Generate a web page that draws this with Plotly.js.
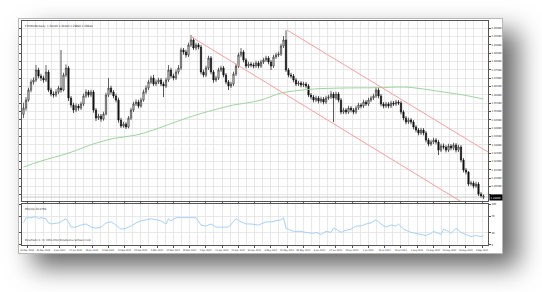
<!DOCTYPE html>
<html><head><meta charset="utf-8">
<script src="https://cdn.plot.ly/plotly-3.0.1.min.js"></script>
<style>
html,body{margin:0;padding:0;background:#fff;width:542px;height:292px;overflow:hidden;}
#frame{position:absolute;left:18px;top:18px;width:483px;height:234px;background:#fff;border:1px solid #b8b8b8;box-shadow:15px 13px 24px rgba(0,0,0,0.6);}
#chart{position:absolute;left:0;top:0;width:542px;height:292px;}
</style></head><body>
<div id="frame"></div><div id="chart"></div>
<script>
// ---- data ----
const symbolTitle = "\u25BE EURUSD,Daily  1.30100 1.30100 1.29820 1.29940";
const rsiTitle = "RSI(14) 23.0769";
const copyright = "MetaTrader 4, (C) 2001-2014 MetaQuotes Software Corp.";

const openP = [1.3490,1.3528,1.3576,1.3636,1.3684,1.3696,1.3756,1.3720,1.3708,1.3696,
1.3744,1.3636,1.3612,1.3606,1.3624,1.3648,1.3636,1.3726,1.3768,1.3588,
1.3546,1.3516,1.3540,1.3528,1.3552,1.3600,1.3624,1.3606,1.3624,1.3516,
1.3468,1.3480,1.3462,1.3492,1.3606,1.3648,1.3624,1.3600,1.3576,1.3456,
1.3420,1.3432,1.3414,1.3468,1.3516,1.3552,1.3564,1.3540,1.3576,1.3624,
1.3648,1.3684,1.3708,1.3672,1.3684,1.3696,1.3672,1.3660,1.3696,1.3756,
1.3720,1.3708,1.3744,1.3768,1.3876,1.3864,1.3846,1.3906,1.3936,1.3888,
1.3906,1.3894,1.3744,1.3726,1.3768,1.3828,1.3744,1.3696,1.3708,1.3756,
1.3768,1.3726,1.3684,1.3660,1.3672,1.3732,1.3780,1.3846,1.3864,1.3816,
1.3780,1.3792,1.3786,1.3780,1.3798,1.3780,1.3804,1.3816,1.3828,1.3804,
1.3780,1.3834,1.3846,1.3852,1.3900,1.3936,1.3756,1.3726,1.3720,1.3696,
1.3672,1.3678,1.3666,1.3672,1.3660,1.3606,1.3594,1.3576,1.3588,1.3570,
1.3582,1.3564,1.3588,1.3594,1.3612,1.3588,1.3612,1.3576,1.3504,1.3516,
1.3504,1.3528,1.3516,1.3504,1.3528,1.3546,1.3540,1.3564,1.3552,1.3576,
1.3588,1.3600,1.3636,1.3600,1.3552,1.3540,1.3552,1.3540,1.3558,1.3552,
1.3564,1.3558,1.3504,1.3468,1.3444,1.3456,1.3444,1.3414,1.3396,1.3378,
1.3396,1.3378,1.3336,1.3312,1.3324,1.3336,1.3324,1.3276,1.3300,1.3294,
1.3276,1.3300,1.3288,1.3306,1.3276,1.3294,1.3216,1.3156,1.3144,1.3072,
1.3078,1.3060,1.3072,1.3012,1.3000];

const highP = [1.3560,1.3594,1.3650,1.3700,1.3712,1.3786,1.3770,1.3734,1.3722,1.3786,
1.3756,1.3650,1.3628,1.3640,1.3662,1.3876,1.3740,1.3790,1.3780,1.3600,
1.3560,1.3556,1.3552,1.3566,1.3614,1.3640,1.3636,1.3638,1.3636,1.3528,
1.3494,1.3492,1.3506,1.3620,1.3708,1.3662,1.3636,1.3614,1.3590,1.3470,
1.3446,1.3444,1.3480,1.3530,1.3566,1.3580,1.3578,1.3590,1.3638,1.3664,
1.3698,1.3722,1.3726,1.3700,1.3710,1.3708,1.3686,1.3710,1.3786,1.3770,
1.3734,1.3758,1.3786,1.3890,1.3888,1.3878,1.3920,1.3966,1.3950,1.3920,
1.3918,1.3906,1.3758,1.3782,1.3842,1.3840,1.3756,1.3722,1.3770,1.3782,
1.3780,1.3738,1.3696,1.3686,1.3746,1.3794,1.3860,1.3888,1.3876,1.3828,
1.3806,1.3804,1.3800,1.3812,1.3810,1.3818,1.3830,1.3842,1.3840,1.3816,
1.3848,1.3860,1.3866,1.3914,1.3960,1.3994,1.3768,1.3740,1.3732,1.3708,
1.3692,1.3690,1.3686,1.3684,1.3672,1.3618,1.3606,1.3602,1.3600,1.3596,
1.3594,1.3602,1.3608,1.3632,1.3624,1.3626,1.3624,1.3588,1.3530,1.3528,
1.3542,1.3540,1.3528,1.3542,1.3560,1.3558,1.3578,1.3576,1.3590,1.3602,
1.3614,1.3654,1.3648,1.3612,1.3564,1.3566,1.3564,1.3572,1.3570,1.3578,
1.3576,1.3570,1.3516,1.3480,1.3470,1.3468,1.3456,1.3426,1.3408,1.3410,
1.3408,1.3390,1.3348,1.3338,1.3350,1.3348,1.3336,1.3314,1.3316,1.3306,
1.3314,1.3312,1.3320,1.3318,1.3308,1.3306,1.3228,1.3168,1.3150,1.3092,
1.3090,1.3086,1.3084,1.3024,1.3010];

const lowP = [1.3468,1.3512,1.3566,1.3622,1.3668,1.3684,1.3706,1.3690,1.3680,1.3684,
1.3624,1.3598,1.3590,1.3594,1.3612,1.3620,1.3628,1.3712,1.3570,1.3530,
1.3498,1.3504,1.3512,1.3516,1.3540,1.3588,1.3592,1.3594,1.3500,1.3450,
1.3456,1.3446,1.3452,1.3484,1.3594,1.3610,1.3586,1.3562,1.3440,1.3408,
1.3410,1.3402,1.3406,1.3456,1.3504,1.3540,1.3526,1.3530,1.3566,1.3612,
1.3636,1.3672,1.3660,1.3660,1.3672,1.3660,1.3594,1.3648,1.3684,1.3706,
1.3694,1.3696,1.3730,1.3756,1.3848,1.3830,1.3834,1.3894,1.3876,1.3874,
1.3880,1.3730,1.3712,1.3714,1.3756,1.3730,1.3680,1.3684,1.3696,1.3744,
1.3712,1.3670,1.3636,1.3648,1.3660,1.3720,1.3768,1.3832,1.3802,1.3766,
1.3768,1.3772,1.3766,1.3768,1.3766,1.3768,1.3792,1.3804,1.3790,1.3756,
1.3768,1.3822,1.3834,1.3840,1.3888,1.3744,1.3712,1.3706,1.3682,1.3660,
1.3660,1.3652,1.3654,1.3646,1.3594,1.3580,1.3562,1.3564,1.3556,1.3558,
1.3550,1.3552,1.3576,1.3582,1.3444,1.3576,1.3562,1.3490,1.3492,1.3490,
1.3492,1.3502,1.3490,1.3492,1.3516,1.3526,1.3528,1.3540,1.3540,1.3564,
1.3576,1.3588,1.3586,1.3538,1.3526,1.3528,1.3526,1.3528,1.3540,1.3540,
1.3546,1.3490,1.3454,1.3430,1.3432,1.3430,1.3400,1.3382,1.3364,1.3366,
1.3364,1.3322,1.3298,1.3300,1.3312,1.3310,1.3246,1.3264,1.3280,1.3262,
1.3264,1.3274,1.3276,1.3262,1.3264,1.3202,1.3142,1.3130,1.3060,1.3062,
1.3046,1.3048,1.3000,1.2988,1.2982];

const closeP = [1.3528,1.3576,1.3636,1.3684,1.3696,1.3756,1.3720,1.3708,1.3696,1.3744,
1.3636,1.3612,1.3606,1.3624,1.3648,1.3636,1.3726,1.3768,1.3588,1.3546,
1.3516,1.3540,1.3528,1.3552,1.3600,1.3624,1.3606,1.3624,1.3516,1.3468,
1.3480,1.3462,1.3492,1.3606,1.3648,1.3624,1.3600,1.3576,1.3456,1.3420,
1.3432,1.3414,1.3468,1.3516,1.3552,1.3564,1.3540,1.3576,1.3624,1.3648,
1.3684,1.3708,1.3672,1.3684,1.3696,1.3672,1.3660,1.3696,1.3756,1.3720,
1.3708,1.3744,1.3768,1.3876,1.3864,1.3846,1.3906,1.3936,1.3888,1.3906,
1.3894,1.3744,1.3726,1.3768,1.3828,1.3744,1.3696,1.3708,1.3756,1.3768,
1.3726,1.3684,1.3660,1.3672,1.3732,1.3780,1.3846,1.3864,1.3816,1.3780,
1.3792,1.3786,1.3780,1.3798,1.3780,1.3804,1.3816,1.3828,1.3804,1.3780,
1.3834,1.3846,1.3852,1.3900,1.3936,1.3756,1.3726,1.3720,1.3696,1.3672,
1.3678,1.3666,1.3672,1.3660,1.3606,1.3594,1.3576,1.3588,1.3570,1.3582,
1.3564,1.3588,1.3594,1.3612,1.3588,1.3612,1.3576,1.3504,1.3516,1.3504,
1.3528,1.3516,1.3504,1.3528,1.3546,1.3540,1.3564,1.3552,1.3576,1.3588,
1.3600,1.3636,1.3600,1.3552,1.3540,1.3552,1.3540,1.3558,1.3552,1.3564,
1.3558,1.3504,1.3468,1.3444,1.3456,1.3444,1.3414,1.3396,1.3378,1.3396,
1.3378,1.3336,1.3312,1.3324,1.3336,1.3324,1.3276,1.3300,1.3294,1.3276,
1.3300,1.3288,1.3306,1.3276,1.3294,1.3216,1.3156,1.3144,1.3072,1.3078,
1.3060,1.3072,1.3012,1.3000,1.2994];

// moving average (green), sampled at bar indices
const maIdx = [0,7,18,29,37,45,53,63,69,73,84,89,95,103,108,116,127,141,152,157,168,176,184];
const maVal = [1.3174,1.3210,1.3258,1.3318,1.3348,1.3366,1.3402,1.3456,1.3486,1.3504,1.3546,1.3558,1.3576,1.3618,1.3630,1.3642,1.3648,1.3650,1.3654,1.3648,1.3624,1.3606,1.3582];

// channel trend lines (bar index, price)
const chanUpX = [105.4, 185.8];
const chanUpY = [1.3996, 1.3264];
const chanLoX = [66.6, 178.6];
const chanLoY = [1.3960, 1.2934];

// RSI(14)
const rsiIdx = [0,1,3,5,6,7,9,10,11,14,17,18,19,21,23,25,27,29,31,33,35,37,39,41,43,45,47,49,51,53,55,57,58,59,61,63,66,69,71,73,75,77,79,82,85,87,89,91,94,97,99,101,103,104,105,108,111,113,116,117,119,121,123,124,125,127,129,131,133,135,137,139,141,143,145,147,149,150,152,155,157,159,161,163,164,165,167,168,170,171,173,175,177,179,181,183,184];
const rsiVal = [53.8,66.7,66.7,69.2,64.1,66.7,64.1,53.8,51.3,53.8,64.1,56.4,43.6,43.6,48.7,51.3,43.6,41.0,43.6,53.8,56.4,48.7,38.5,41.0,46.2,53.8,59.0,61.5,64.1,61.5,59.0,51.3,64.1,59.0,66.7,66.7,66.7,66.7,48.7,46.2,51.3,43.6,43.6,43.6,64.1,56.4,51.3,51.3,48.7,56.4,56.4,59.0,61.5,66.7,41.0,33.3,33.3,30.8,28.2,30.8,25.6,33.3,30.8,41.0,38.5,30.8,35.9,38.5,46.2,46.2,51.3,53.8,61.5,51.3,43.6,48.7,46.2,51.3,38.5,30.8,28.2,25.6,23.1,28.2,33.3,30.8,25.6,38.5,33.3,28.2,41.0,30.8,25.6,20.5,23.1,20.5,23.1];
const rsiLevels = [0,30,70,100];
const rsiLevelText = ["0","30","70","100"];

// date labels
const dateLabels = ["20 Dec 2013","31 Dec 2013","9 Jan 2014","17 Jan 2014","28 Jan 2014","5 Feb 2014","14 Feb 2014","25 Feb 2014","5 Mar 2014","14 Mar 2014","25 Mar 2014","2 Apr 2014","11 Apr 2014","22 Apr 2014","30 Apr 2014","9 May 2014","20 May 2014","28 May 2014","6 Jun 2014","17 Jun 2014","25 Jun 2014","4 Jul 2014","15 Jul 2014","23 Jul 2014","1 Aug 2014","12 Aug 2014","20 Aug 2014","29 Aug 2014","9 Sep 2014"];

// ---- build ----
const barIdx = closeP.map((_, i) => i);
const labelStep = 6.5, labelStart = 1.4;
const labelPos = dateLabels.map((_, k) => labelStart + labelStep * k);
const lastClose = closeP[closeP.length - 1];

const gridC = '#e2e2e2';
const narrow = 'Liberation Sans Narrow, DejaVu Sans Condensed, Arial';
const tinyFont = {family: narrow, size: 2.7, color: '#222'};

const traces = [
  {type: 'candlestick', x: barIdx, open: openP, high: highP, low: lowP, close: closeP,
   xaxis: 'x', yaxis: 'y', whiskerwidth: 0,
   increasing: {line: {color: '#2a2a2a', width: 0.7}, fillcolor: '#ffffff'},
   decreasing: {line: {color: '#111111', width: 0.7}, fillcolor: '#111111'},
   hoverinfo: 'skip', showlegend: false},
  {type: 'scatter', mode: 'lines', x: maIdx, y: maVal, xaxis: 'x', yaxis: 'y',
   line: {color: '#9fd39f', width: 1, shape: 'spline'}, hoverinfo: 'skip', showlegend: false},
  {type: 'scatter', mode: 'lines', x: chanUpX, y: chanUpY, xaxis: 'x', yaxis: 'y',
   line: {color: '#f2a0a0', width: 1}, hoverinfo: 'skip', showlegend: false},
  {type: 'scatter', mode: 'lines', x: chanLoX, y: chanLoY, xaxis: 'x', yaxis: 'y',
   line: {color: '#f2a0a0', width: 1}, hoverinfo: 'skip', showlegend: false},
  {type: 'scatter', mode: 'lines', x: rsiIdx, y: rsiVal, xaxis: 'x', yaxis: 'y2',
   line: {color: '#a9d1f7', width: 1}, hoverinfo: 'skip', showlegend: false}
];

const layout = {
  width: 542, height: 292,
  margin: {l: 22, r: 54, t: 21, b: 47, pad: 0},
  paper_bgcolor: 'rgba(0,0,0,0)', plot_bgcolor: '#ffffff',
  font: tinyFont,
  showlegend: false,
  xaxis: {
    domain: [0, 1], anchor: 'y2', range: [-0.6, 185.8],
    rangeslider: {visible: false},
    tickmode: 'array', tickvals: labelPos, ticktext: dateLabels,
    tickfont: {family: narrow, size: 2.4, color: '#222'},
    ticks: 'outside', ticklen: 2, tickcolor: '#555', tickangle: 0,
    showgrid: true, gridcolor: gridC, gridwidth: 0.8,
    minor: {tick0: labelStart + labelStep / 2, dtick: labelStep, showgrid: true, gridcolor: gridC, gridwidth: 0.8},
    showline: true, linecolor: '#555', linewidth: 1, mirror: 'all', zeroline: false
  },
  yaxis: {
    domain: [0.196, 1], anchor: 'x', side: 'right', range: [1.2970, 1.4050],
    tick0: 1.4008, dtick: 0.005, tickformat: '.5f',
    tickfont: tinyFont, ticks: 'outside', ticklen: 2, tickcolor: '#555',
    showgrid: true, gridcolor: gridC, gridwidth: 0.8,
    showline: true, linecolor: '#555', linewidth: 1, mirror: 'all', zeroline: false
  },
  yaxis2: {
    domain: [0, 0.183], anchor: 'x', side: 'right', range: [0, 100],
    tickmode: 'array', tickvals: rsiLevels, ticktext: rsiLevelText,
    tickfont: tinyFont, ticks: 'outside', ticklen: 2, tickcolor: '#555',
    showgrid: true, gridcolor: gridC, gridwidth: 0.8,
    showline: true, linecolor: '#555', linewidth: 1, mirror: 'all', zeroline: false
  },
  shapes: [
    {type: 'line', xref: 'x domain', yref: 'y', x0: 0, x1: 1, y0: lastClose, y1: lastClose,
     line: {color: '#b0b0b0', width: 0.7}}
  ],
  annotations: [
    {text: symbolTitle, xref: 'x domain', yref: 'y domain', x: 0, y: 1, xanchor: 'left', yanchor: 'top',
     xshift: 1, yshift: -0.5, showarrow: false, font: {family: narrow, size: 2.9, color: '#222'}},
    {text: rsiTitle, xref: 'x domain', yref: 'y2 domain', x: 0, y: 1, xanchor: 'left', yanchor: 'top',
     xshift: 1, yshift: -0.5, showarrow: false, font: {family: narrow, size: 2.9, color: '#222'}},
    {text: copyright, xref: 'x domain', yref: 'y2 domain', x: 0, y: 0, xanchor: 'left', yanchor: 'bottom',
     xshift: 1, yshift: 0.5, showarrow: false, font: {family: narrow, size: 2.6, color: '#333'}},
    {text: lastClose.toFixed(5), xref: 'x domain', yref: 'y', x: 1, y: lastClose, xanchor: 'left', yanchor: 'middle',
     xshift: 1, showarrow: false, bgcolor: '#000000', borderpad: 0.6,
     font: {family: narrow, size: 2.7, color: '#ffffff'}}
  ]
};

Plotly.newPlot('chart', traces, layout, {staticPlot: true, displayModeBar: false});
</script></body></html>
